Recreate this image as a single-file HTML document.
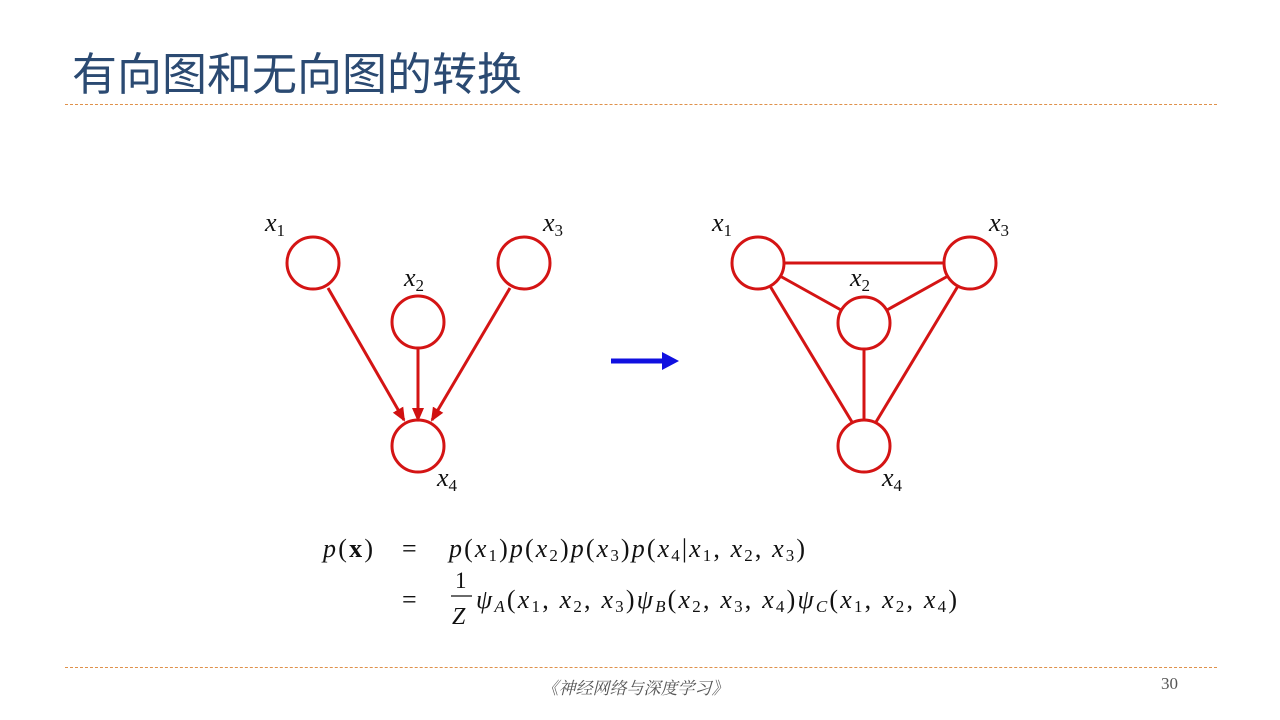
<!DOCTYPE html>
<html><head><meta charset="utf-8"><style>
body{margin:0;background:#fff;width:1280px;height:720px;overflow:hidden;position:relative}
.t{position:absolute;left:72px;top:47px;font:45px "Liberation Sans","Noto Sans CJK SC",sans-serif;color:#2b4a72;white-space:nowrap;line-height:56px}
.d{position:absolute;left:65px;width:1152px;border-top:1px dashed #e0914a}
.f{position:absolute;top:674px;left:524px;width:222px;text-align:center;font:italic 17px "Liberation Serif","Noto Serif CJK SC",serif;color:#555;white-space:nowrap}
.n{position:absolute;top:674px;left:1161px;font:17px "Liberation Serif",serif;color:#555}
</style></head><body>
<div class="t">有向图和无向图的转换</div>
<div class="d" style="top:104px"></div>
<div class="d" style="top:667px"></div>
<div class="f">《神经网络与深度学习》</div>
<div class="n">30</div>
<svg width="1280" height="720" style="position:absolute;left:0;top:0" font-family="Liberation Serif,serif">
<defs><marker id="a" markerWidth="14" markerHeight="14" refX="12" refY="7" orient="auto" markerUnits="userSpaceOnUse"><path d="M0,1 L14,7 L0,13z" fill="#d01010"/></marker></defs>
<g stroke="#d41414" stroke-width="3" fill="none">
<circle cx="313" cy="263" r="26"/><circle cx="418" cy="322" r="26"/><circle cx="524" cy="263" r="26"/><circle cx="418" cy="446" r="26"/>
<line x1="328" y1="288" x2="404" y2="420" marker-end="url(#a)"/>
<line x1="418" y1="348" x2="418" y2="420" marker-end="url(#a)"/>
<line x1="510" y1="288" x2="432" y2="420" marker-end="url(#a)"/>
<circle cx="758" cy="263" r="26"/><circle cx="864" cy="323" r="26"/><circle cx="970" cy="263" r="26"/><circle cx="864" cy="446" r="26"/>
<line x1="784" y1="263" x2="944" y2="263"/>
<line x1="780" y1="276" x2="841" y2="310"/>
<line x1="948" y1="276" x2="887" y2="310"/>
<line x1="864" y1="349" x2="864" y2="420"/>
<line x1="770" y1="286" x2="852" y2="422"/>
<line x1="958" y1="286" x2="876" y2="422"/>
</g>
<line x1="611" y1="361" x2="665" y2="361" stroke="#1010e0" stroke-width="5"/>
<path d="M662,352 L679,361 L662,370z" fill="#1010e0"/>
<g font-style="italic" font-size="26" fill="#111">
<text x="265" y="231">x<tspan font-size="17" font-style="normal" dy="5">1</tspan></text>
<text x="404" y="286">x<tspan font-size="17" font-style="normal" dy="5">2</tspan></text>
<text x="543" y="231">x<tspan font-size="17" font-style="normal" dy="5">3</tspan></text>
<text x="437" y="486">x<tspan font-size="17" font-style="normal" dy="5">4</tspan></text>
<text x="712" y="231">x<tspan font-size="17" font-style="normal" dy="5">1</tspan></text>
<text x="850" y="286">x<tspan font-size="17" font-style="normal" dy="5">2</tspan></text>
<text x="989" y="231">x<tspan font-size="17" font-style="normal" dy="5">3</tspan></text>
<text x="882" y="486">x<tspan font-size="17" font-style="normal" dy="5">4</tspan></text>
</g>
<g font-size="26" fill="#111">
<text x="323" y="557" textLength="50" lengthAdjust="spacing"><tspan font-style="italic">p</tspan>(<tspan font-weight="bold">x</tspan>)</text>
<text x="402" y="557">=</text>
<text x="449" y="557" textLength="356" lengthAdjust="spacing"><tspan font-style="italic">p</tspan>(<tspan font-style="italic">x</tspan><tspan font-size="17" dy="4">1</tspan><tspan dy="-4">)</tspan><tspan font-style="italic">p</tspan>(<tspan font-style="italic">x</tspan><tspan font-size="17" dy="4">2</tspan><tspan dy="-4">)</tspan><tspan font-style="italic">p</tspan>(<tspan font-style="italic">x</tspan><tspan font-size="17" dy="4">3</tspan><tspan dy="-4">)</tspan><tspan font-style="italic">p</tspan>(<tspan font-style="italic">x</tspan><tspan font-size="17" dy="4">4</tspan><tspan dy="-4">|</tspan><tspan font-style="italic">x</tspan><tspan font-size="17" dy="4">1</tspan><tspan dy="-4">, </tspan><tspan font-style="italic">x</tspan><tspan font-size="17" dy="4">2</tspan><tspan dy="-4">, </tspan><tspan font-style="italic">x</tspan><tspan font-size="17" dy="4">3</tspan><tspan dy="-4">)</tspan></text>
<text x="402" y="608">=</text>
<text x="455" y="588" font-size="23">1</text>
<line x1="451" y1="596" x2="472" y2="596" stroke="#111" stroke-width="1.2"/>
<text x="452" y="624" font-style="italic" font-size="24">Z</text>
<text x="476" y="608" textLength="481" lengthAdjust="spacing"><tspan font-style="italic">ψ</tspan><tspan font-size="17" font-style="italic" dy="4">A</tspan><tspan dy="-4">(</tspan><tspan font-style="italic">x</tspan><tspan font-size="17" dy="4">1</tspan><tspan dy="-4">, </tspan><tspan font-style="italic">x</tspan><tspan font-size="17" dy="4">2</tspan><tspan dy="-4">, </tspan><tspan font-style="italic">x</tspan><tspan font-size="17" dy="4">3</tspan><tspan dy="-4">)</tspan><tspan font-style="italic">ψ</tspan><tspan font-size="17" font-style="italic" dy="4">B</tspan><tspan dy="-4">(</tspan><tspan font-style="italic">x</tspan><tspan font-size="17" dy="4">2</tspan><tspan dy="-4">, </tspan><tspan font-style="italic">x</tspan><tspan font-size="17" dy="4">3</tspan><tspan dy="-4">, </tspan><tspan font-style="italic">x</tspan><tspan font-size="17" dy="4">4</tspan><tspan dy="-4">)</tspan><tspan font-style="italic">ψ</tspan><tspan font-size="17" font-style="italic" dy="4">C</tspan><tspan dy="-4">(</tspan><tspan font-style="italic">x</tspan><tspan font-size="17" dy="4">1</tspan><tspan dy="-4">, </tspan><tspan font-style="italic">x</tspan><tspan font-size="17" dy="4">2</tspan><tspan dy="-4">, </tspan><tspan font-style="italic">x</tspan><tspan font-size="17" dy="4">4</tspan><tspan dy="-4">)</tspan></text>
</g>
</svg>
</body></html>
